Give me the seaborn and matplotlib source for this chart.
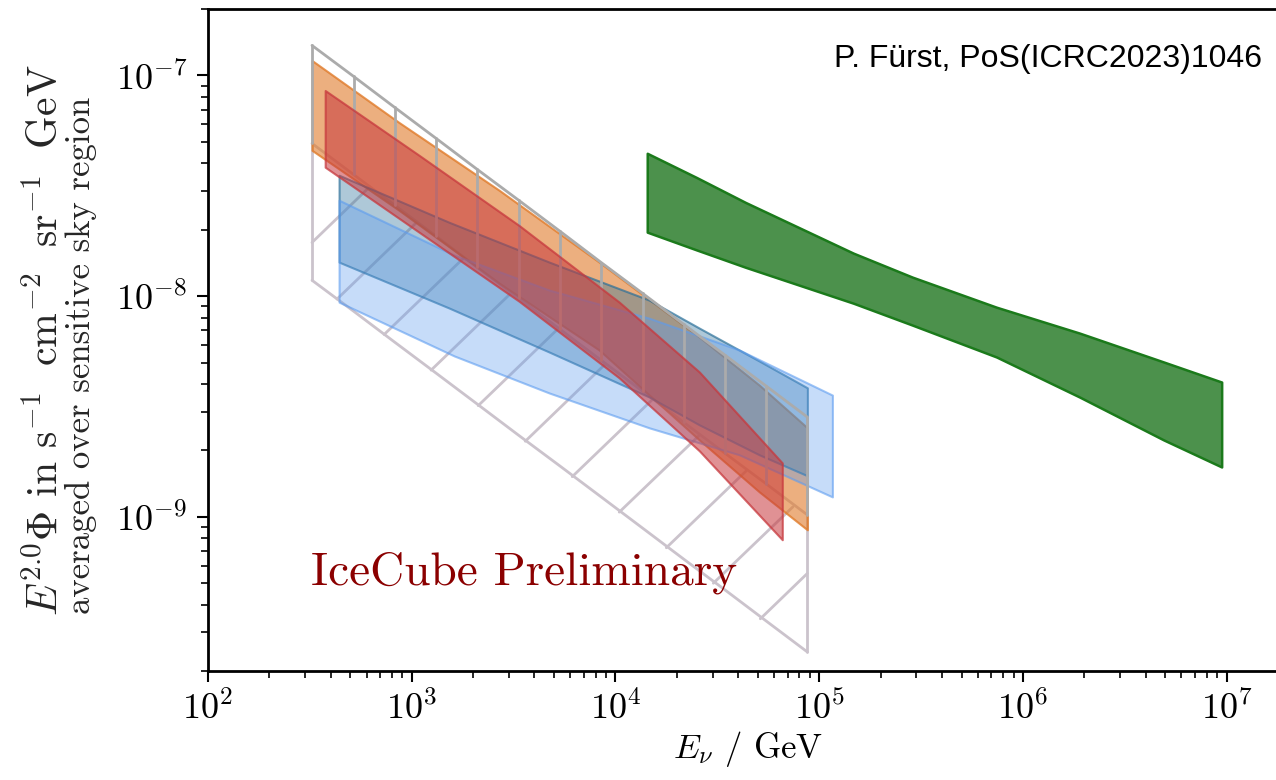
import matplotlib
matplotlib.use("Agg")
import matplotlib.pyplot as plt
import seaborn as sns
from matplotlib.ticker import LogLocator, NullFormatter

# gray mesh (energies of the ribs, upper / middle / lower boundary)
grid_E = [324, 518, 826, 1316, 2099, 3350, 5335, 8511, 13580, 21630, 34510, 54950, 87500]
grid_top = [1.368e-7, 9.91e-8, 7.16e-8, 5.19e-8, 3.75e-8, 2.72e-8, 1.97e-8,
            1.42e-8, 1.03e-8, 7.45e-9, 5.40e-9, 3.91e-9, 2.83e-9]
grid_mid = [4.92e-8, 3.56e-8, 2.58e-8, 1.87e-8, 1.35e-8, 9.77e-9, 7.08e-9,
            5.12e-9, 3.71e-9, 2.68e-9, 1.94e-9, 1.41e-9, 1.02e-9]
grid_bot = [1.18e-8, 8.55e-9, 6.18e-9, 4.48e-9, 3.24e-9, 2.34e-9, 1.70e-9,
            1.23e-9, 8.89e-10, 6.43e-10, 4.66e-10, 3.37e-10, 2.44e-10]
# slanted ribs of the lower mesh part
rib_E0 = [324, 430, 732, 1245, 2120, 3610, 6135, 10440, 17770, 30230, 51430]
rib_F0 = [1.75e-8, 9.70e-9, 6.70e-9, 4.62e-9, 3.19e-9, 2.20e-9, 1.52e-9,
          1.05e-9, 7.24e-10, 5.00e-10, 3.45e-10]
rib_E1 = [622, 1058, 1801, 3064, 5214, 8869, 15090, 25680, 43700, 74340, 87500]
rib_F1 = [3.13e-8, 2.16e-8, 1.49e-8, 1.03e-8, 7.10e-9, 4.90e-9, 3.38e-9,
          2.33e-9, 1.61e-9, 1.11e-9, 5.54e-10]

# orange band
orange_E = [324, 867, 2685, 8318, 25820, 50840, 87500]
orange_hi = [1.169e-7, 6.12e-8, 3.02e-8, 1.426e-8, 6.52e-9, 3.95e-9, 2.53e-9]
orange_lo = [4.58e-8, 2.45e-8, 1.146e-8, 5.70e-9, 2.23e-9, 1.297e-9, 8.73e-10]

# red band
red_E = [376, 1086, 3366, 10440, 25820, 65900]
red_hi = [8.55e-8, 4.35e-8, 2.09e-8, 9.39e-9, 4.53e-9, 1.754e-9]
red_lo = [3.84e-8, 1.95e-8, 9.48e-9, 4.26e-9, 1.99e-9, 7.87e-10]

# steel blue band
blue_E = [440, 1528, 4733, 14660, 25820, 50840, 87500]
blue_hi = [3.53e-8, 2.16e-8, 1.426e-8, 9.59e-9, 7.16e-9, 5.08e-9, 3.84e-9]
blue_lo = [1.426e-8, 8.83e-9, 5.58e-9, 3.49e-9, 2.61e-9, 1.91e-9, 1.535e-9]

# light blue band
lblue_E = [440, 1615, 4733, 14660, 40550, 116100]
lblue_hi = [2.72e-8, 1.535e-8, 1.065e-8, 7.94e-9, 5.70e-9, 3.56e-9]
lblue_lo = [9.39e-9, 5.36e-9, 3.64e-9, 2.53e-9, 1.91e-9, 1.231e-9]

# green band
green_E = [14320, 25000, 43450, 147200, 287000, 741700, 1.897e6, 4.91e6, 9.45e6]
green_hi = [4.44e-8, 3.45e-8, 2.66e-8, 1.566e-8, 1.219e-8, 8.91e-9, 6.80e-9, 5.03e-9, 4.08e-9]
green_lo = [1.95e-8, 1.62e-8, 1.352e-8, 9.29e-9, 7.39e-9, 5.30e-9, 3.49e-9, 2.23e-9, 1.682e-9]

sns.set_theme(style="ticks")
plt.rcParams['font.family'] = ['cmr10', 'DejaVu Serif']
plt.rcParams['mathtext.fontset'] = 'cm'
plt.rcParams['axes.formatter.use_mathtext'] = True
plt.rcParams['axes.unicode_minus'] = False

fig = plt.figure(figsize=(12.76, 7.8), dpi=100)
ax = fig.add_axes([0.1630, 0.1397, 0.8464, 0.8487])
ax.set_xscale('log')
ax.set_yscale('log')

up_gray = '#ababab'
lo_gray = '#cbc3cc'

# bands
ax.fill_between(orange_E, orange_lo, orange_hi, facecolor=(0.878, 0.482, 0.165, 0.6),
                edgecolor=(0.878, 0.482, 0.165, 0.8), lw=1.5, zorder=2)
ax.fill_between(blue_E, blue_lo, blue_hi, facecolor=(0.17, 0.44, 0.60, 0.38),
                edgecolor=(0.17, 0.44, 0.60, 0.7), lw=1.5, zorder=3)
ax.fill_between(lblue_E, lblue_lo, lblue_hi, facecolor=(0.36, 0.61, 0.94, 0.35),
                edgecolor=(0.36, 0.61, 0.94, 0.6), lw=1.5, zorder=4)

# gray mesh
for i in range(len(grid_E)):
    ax.plot([grid_E[i], grid_E[i]], [grid_mid[i], grid_top[i]], color=up_gray, lw=2.0, zorder=5)
for i in range(len(rib_E0)):
    ax.plot([rib_E0[i], rib_E1[i]], [rib_F0[i], rib_F1[i]], color=lo_gray, lw=2.0, zorder=1)
sns.lineplot(x=grid_E, y=grid_top, ax=ax, color=up_gray, lw=2.0, zorder=5)
sns.lineplot(x=grid_E, y=grid_mid, ax=ax, color=lo_gray, lw=2.0, zorder=1)
sns.lineplot(x=grid_E, y=grid_bot, ax=ax, color=lo_gray, lw=2.0, zorder=1)
ax.plot([grid_E[0], grid_E[0]], [grid_bot[0], grid_mid[0]], color=lo_gray, lw=2.0, zorder=1)
ax.plot([grid_E[-1], grid_E[-1]], [grid_bot[-1], grid_mid[-1]], color=lo_gray, lw=2.0, zorder=1)

ax.fill_between(red_E, red_lo, red_hi, facecolor=(0.78, 0.22, 0.24, 0.55),
                edgecolor=(0.78, 0.22, 0.24, 0.75), lw=1.5, zorder=6)
ax.fill_between(green_E, green_lo, green_hi, facecolor=(0.0, 0.39, 0.0, 0.7),
                edgecolor='#1b7a1b', lw=1.8, zorder=6)

ax.set_xlim(1e2, 2e7)
ax.set_ylim(2e-10, 2e-7)
for s in ax.spines.values():
    s.set_linewidth(2.0)
    s.set_color('black')
ax.xaxis.set_major_locator(LogLocator(base=10, numticks=12))
ax.xaxis.set_minor_locator(LogLocator(base=10, subs=range(2, 10), numticks=12))
ax.xaxis.set_minor_formatter(NullFormatter())
ax.yaxis.set_minor_formatter(NullFormatter())
ax.tick_params(which='major', direction='out', length=8, width=1.5, labelsize=26, pad=6, colors='black')
ax.tick_params(which='minor', direction='out', length=5, width=1.2, colors='black')
ax.tick_params(axis='y', which='major', pad=7)

ax.set_xlabel(r"$E_\nu$ / GeV", fontsize=25, labelpad=2, color='black')
fig.text(57 / 1276, 1 - 340 / 780,
         r"$E^{2.0}\Phi$ in s$^{-1}$$\;$ cm$^{-2}$$\;$ sr$^{-1}$$\;$ GeV",
         rotation=90, rotation_mode='anchor', ha='center', va='baseline', fontsize=30)
fig.text(90 / 1276, 1 - 355 / 780, "averaged over sensitive sky region",
         rotation=90, rotation_mode='anchor', ha='center', va='baseline', fontsize=25)

ax.text(321, 4.92e-10, "IceCube Preliminary", color='#8b0000', fontsize=34,
        ha='left', va='baseline', zorder=7)
fig.text(1262 / 1276, 1 - 67 / 780, "P. Fürst, PoS(ICRC2023)1046", ha='right', va='baseline',
         fontsize=23, family=['Liberation Sans', 'DejaVu Sans'], color='black')

fig.savefig("out.png", dpi=100)
